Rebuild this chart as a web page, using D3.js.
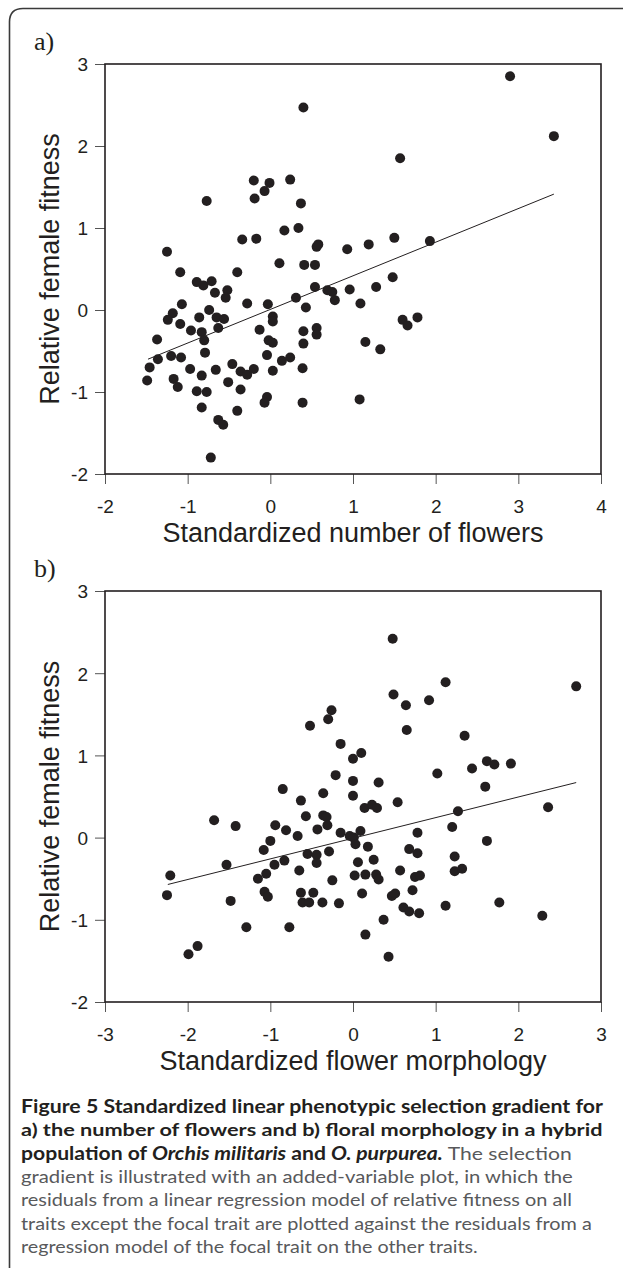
<!DOCTYPE html>
<html>
<head>
<meta charset="utf-8">
<script src="https://cdn.jsdelivr.net/npm/d3@7"></script>
<style>
  body { margin: 0; background: #fff; }
  svg { display: block; }
</style>
</head>
<body>
<svg id="fig" width="625" height="1278"></svg>
<script>
// panel a) standardized number of flowers vs relative female fitness
var flowersPts = [
  [0.40, 2.47], [-0.77, 1.33], [-0.20, 1.58], [-0.19, 1.36], [-0.07, 1.45], [-0.01, 1.55],
  [0.24, 1.59], [0.37, 1.30], [0.34, 1.00], [0.17, 0.97], [-0.34, 0.86], [-0.17, 0.87],
  [-1.25, 0.71], [0.56, 0.77], [0.58, 0.80], [-1.09, 0.46], [-0.40, 0.46], [0.11, 0.57],
  [0.41, 0.55], [0.54, 0.55], [-0.89, 0.34], [-0.81, 0.30], [-0.71, 0.35], [-0.67, 0.21],
  [-0.52, 0.24], [0.54, 0.28], [0.31, 0.15], [-0.54, 0.15], [-1.07, 0.07], [-0.28, 0.08],
  [-0.03, 0.07], [0.43, 0.03], [-1.18, -0.04], [-1.24, -0.12], [-1.09, -0.17], [-0.86, -0.09],
  [-0.74, 0.00], [-0.65, -0.09], [-0.56, -0.11], [-0.96, -0.25], [-0.83, -0.27], [-0.63, -0.22],
  [-0.80, -0.37], [-0.13, -0.24], [0.03, -0.08], [0.03, -0.14], [-0.02, -0.37], [0.03, -0.40],
  [0.40, -0.26], [0.40, -0.41], [0.56, -0.22], [0.56, -0.30], [-1.37, -0.36], [-1.36, -0.60],
  [-1.46, -0.70], [-1.49, -0.86], [-1.20, -0.56], [-1.08, -0.58], [-0.97, -0.72], [-1.17, -0.84],
  [-1.12, -0.94], [-0.79, -0.52], [-0.83, -0.80], [-0.66, -0.73], [-0.89, -0.99], [-0.77, -1.00],
  [-0.83, -1.19], [-0.63, -1.34], [-0.57, -1.40], [-0.72, -1.80], [-0.46, -0.66], [-0.51, -0.88],
  [-0.36, -0.75], [-0.28, -0.79], [-0.20, -0.72], [-0.36, -0.97], [-0.40, -1.23], [-0.04, -0.55],
  [0.03, -0.74], [0.14, -0.62], [0.24, -0.58], [-0.04, -1.06], [-0.07, -1.13], [0.39, -0.71],
  [0.39, -1.13], [2.90, 2.85], [3.43, 2.12], [1.57, 1.85], [0.93, 0.74], [1.19, 0.80],
  [1.50, 0.88], [1.93, 0.84], [1.48, 0.40], [1.28, 0.28], [0.96, 0.25], [0.69, 0.24],
  [0.75, 0.22], [0.78, 0.12], [1.09, 0.08], [1.60, -0.12], [1.66, -0.19], [1.78, -0.09],
  [1.15, -0.39], [1.33, -0.48], [1.08, -1.09]
];

// panel b) standardized flower morphology vs relative female fitness
var morphPts = [
  [-0.52, 1.36], [-0.85, 0.59], [-0.63, 0.45], [-0.57, 0.26], [-1.68, 0.21], [-1.42, 0.14],
  [-0.94, 0.15], [-0.81, 0.09], [-0.67, 0.02], [-0.43, 0.10], [-1.00, -0.04], [-1.08, -0.15],
  [-0.55, -0.20], [-0.44, -0.21], [-1.53, -0.33], [-0.95, -0.33], [-0.83, -0.28], [-0.44, -0.31],
  [-2.21, -0.46], [-2.25, -0.70], [-1.48, -0.77], [-1.15, -0.50], [-1.05, -0.44], [-1.07, -0.66],
  [-1.03, -0.72], [-1.29, -1.09], [-0.77, -1.09], [-1.99, -1.42], [-1.88, -1.32], [-0.65, -0.40],
  [-0.63, -0.67], [-0.48, -0.67], [-0.61, -0.79], [-0.53, -0.79], [-0.37, -0.79], [0.48, 2.42],
  [1.12, 1.89], [2.70, 1.84], [0.49, 1.74], [0.64, 1.61], [0.92, 1.67], [0.65, 1.31],
  [-0.26, 1.55], [-0.30, 1.44], [1.35, 1.24], [-0.15, 1.14], [0.10, 1.03], [0.00, 0.96],
  [-0.21, 0.76], [0.00, 0.69], [0.31, 0.67], [1.02, 0.78], [1.44, 0.84], [1.62, 0.93],
  [1.71, 0.89], [1.91, 0.90], [1.60, 0.62], [-0.36, 0.54], [0.00, 0.51], [-0.36, 0.27],
  [-0.32, 0.25], [-0.31, 0.15], [0.14, 0.36], [0.23, 0.40], [0.29, 0.36], [0.54, 0.43],
  [1.27, 0.32], [2.36, 0.37], [1.20, 0.13], [-0.15, 0.06], [-0.04, 0.02], [0.01, 0.00],
  [0.09, 0.08], [0.03, -0.08], [0.18, -0.11], [0.78, 0.06], [1.62, -0.04], [0.68, -0.14],
  [0.78, -0.19], [1.23, -0.23], [-0.29, -0.17], [0.06, -0.30], [0.25, -0.27], [-0.25, -0.52],
  [0.02, -0.46], [0.15, -0.45], [0.28, -0.45], [0.31, -0.51], [0.57, -0.40], [0.75, -0.48],
  [0.81, -0.46], [1.23, -0.41], [1.32, -0.38], [-0.17, -0.80], [0.11, -0.68], [0.47, -0.71],
  [0.51, -0.68], [0.72, -0.64], [0.61, -0.85], [0.68, -0.90], [0.80, -0.92], [1.12, -0.83],
  [1.77, -0.79], [2.29, -0.95], [0.37, -1.00], [0.15, -1.18], [0.43, -1.45]
];

// fitted selection gradients
var fitSlope = [0.41, 0.251];
var fitIntercept = [0.007, -0.008];
var fitRange = [[-1.48, 3.43], [-2.24, 2.70]];

var xDomains = [[-2, 4], [-3, 3]];
var yDomain = [-2, 3];
var xTicks = [[-2, -1, 0, 1, 2, 3, 4], [-3, -2, -1, 0, 1, 2, 3]];
var yTicks = [-2, -1, 0, 1, 2, 3];
var panelNames = ["a)", "b)"];
var xTitles = ["Standardized number of flowers", "Standardized flower morphology"];
var yTitle = "Relative female fitness";

var captionLines = [
  [["b", "Figure 5 Standardized linear phenotypic selection gradient for"]],
  [["b", "a) the number of flowers and b) floral morphology in a hybrid"]],
  [["b", "population of "], ["bi", "Orchis militaris"], ["b", " and "], ["bi", "O. purpurea."], ["r", " The selection"]],
  [["r", "gradient is illustrated with an added-variable plot, in which the"]],
  [["r", "residuals from a linear regression model of relative fitness on all"]],
  [["r", "traits except the focal trait are plotted against the residuals from a"]],
  [["r", "regression model of the focal trait on the other traits."]]
];

var svg = d3.select("#fig");
var ink = "#231f20";

// frame around the whole figure
svg.append("path")
  .attr("d", "M9.5,1268 L9.5,22 Q9.5,8.5 23,8.5 L623,8.5")
  .attr("fill", "none")
  .attr("stroke", "#3a3a3a")
  .attr("stroke-width", 1.6);

var panels = [
  { pts: flowersPts, top: 64, bottom: 474, labelY: 50 },
  { pts: morphPts, top: 591, bottom: 1002, labelY: 577 }
];

var left = 105, right = 601;
var plainNum = function(d) { return String(d); };  // hyphen minus, as in the original

panels.forEach(function(p, i) {
  var x = d3.scaleLinear().domain(xDomains[i]).range([left, right]);
  var y = d3.scaleLinear().domain(yDomain).range([p.bottom, p.top]);
  var g = svg.append("g");

  // panel letter
  g.append("text")
    .attr("x", 34)
    .attr("y", p.labelY)
    .attr("font-family", "Liberation Serif, serif")
    .attr("font-size", 26)
    .attr("fill", ink)
    .text(panelNames[i]);

  // x axis
  var xa = g.append("g")
    .attr("transform", "translate(0," + p.bottom + ")")
    .call(d3.axisBottom(x).tickValues(xTicks[i]).tickSize(10).tickSizeOuter(0).tickFormat(plainNum));
  xa.select(".domain").remove();
  xa.selectAll(".tick line").attr("stroke", "#555").attr("stroke-width", 1);
  xa.selectAll(".tick text")
    .attr("y", 39).attr("dy", 0)
    .attr("font-family", "Liberation Sans, Arial, sans-serif")
    .attr("font-size", 19)
    .attr("fill", ink);

  // y axis
  var ya = g.append("g")
    .attr("transform", "translate(" + left + ",0)")
    .call(d3.axisLeft(y).tickValues(yTicks).tickSize(10).tickSizeOuter(0).tickFormat(plainNum));
  ya.select(".domain").remove();
  ya.selectAll(".tick line").attr("stroke", "#555").attr("stroke-width", 1);
  ya.selectAll(".tick text")
    .attr("x", -17).attr("dy", "0.36em")
    .attr("font-family", "Liberation Sans, Arial, sans-serif")
    .attr("font-size", 19)
    .attr("fill", ink);

  // plot box
  g.append("rect")
    .attr("x", left)
    .attr("y", p.top)
    .attr("width", right - left)
    .attr("height", p.bottom - p.top)
    .attr("fill", "none")
    .attr("stroke", ink)
    .attr("stroke-width", 1.6);

  // axis titles
  g.append("text")
    .attr("x", (left + right) / 2)
    .attr("y", p.bottom + 68)
    .attr("text-anchor", "middle")
    .attr("font-family", "Liberation Sans, Arial, sans-serif")
    .attr("font-size", 27)
    .attr("fill", ink)
    .text(xTitles[i]);

  g.append("text")
    .attr("transform", "translate(59," + (p.top + p.bottom) / 2 + ") rotate(-90)")
    .attr("text-anchor", "middle")
    .attr("font-family", "Liberation Sans, Arial, sans-serif")
    .attr("font-size", 27)
    .attr("fill", ink)
    .text(yTitle);

  // regression line
  var fx = fitRange[i];
  g.append("line")
    .attr("x1", x(fx[0]))
    .attr("y1", y(fitIntercept[i] + fitSlope[i] * fx[0]))
    .attr("x2", x(fx[1]))
    .attr("y2", y(fitIntercept[i] + fitSlope[i] * fx[1]))
    .attr("stroke", ink)
    .attr("stroke-width", 1);

  // points
  g.selectAll("circle")
    .data(p.pts)
    .enter()
    .append("circle")
    .attr("cx", function(d) { return x(d[0]); })
    .attr("cy", function(d) { return y(d[1]); })
    .attr("r", 5)
    .attr("fill", ink);
});

// caption; every line squeezed to the width it has in the original
var capX = 21, capY0 = 1113, capStep = 23.3;
var capEnds = [603, 603, 572, 573, 572, 592, 478];

captionLines.forEach(function(line, i) {
  var t = svg.append("text")
    .attr("x", 0)
    .attr("y", 0)
    .attr("font-family", "Lato, 'Open Sans', sans-serif")
    .attr("font-size", 18);
  line.forEach(function(seg) {
    t.append("tspan")
      .attr("font-weight", seg[0] == "r" ? "normal" : "bold")
      .attr("font-style", seg[0] == "bi" ? "italic" : "normal")
      .attr("fill", seg[0] == "r" ? "#58595b" : ink)
      .text(seg[1]);
  });
  var k = (capEnds[i] - capX) / t.node().getComputedTextLength();
  t.attr("transform", "translate(" + capX + "," + (capY0 + i * capStep) + ") scale(" + k + ",1)");
});
</script>
</body>
</html>
